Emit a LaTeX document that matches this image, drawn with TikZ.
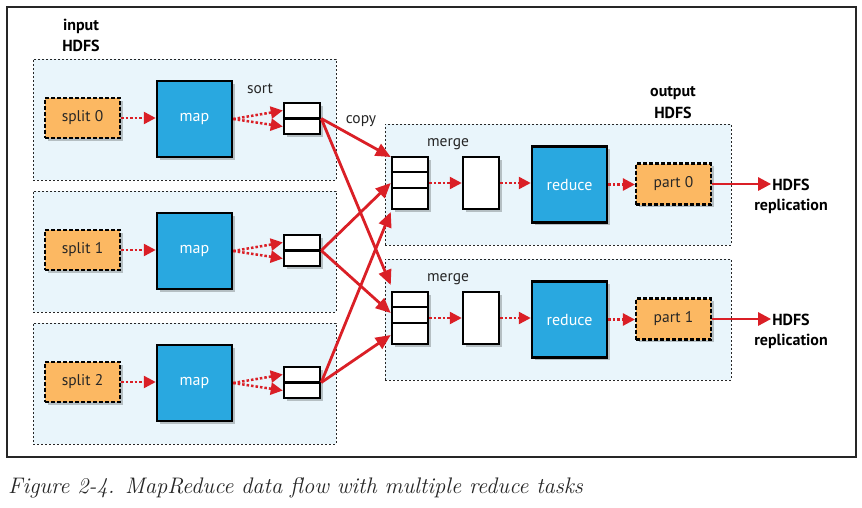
\documentclass[tikz,border=0pt]{standalone}
\usepackage{fontspec}
\setmainfont{PT Sans}
\newfontfamily\capfont{Latin Modern Roman}
\usetikzlibrary{shadows,arrows.meta,calc}
\definecolor{hblue}{HTML}{29A8E0}
\definecolor{horange}{HTML}{FCB862}
\definecolor{hbg}{HTML}{E9F5FB}
\definecolor{hred}{HTML}{DA1F26}
\tikzset{
  shad/.style={drop shadow={shadow xshift=2.5pt, shadow yshift=-2.5pt, opacity=0.22, fill=black}},
  container/.style={draw=black!85, line width=1pt, dash pattern=on 2pt off 2pt, fill=hbg, inner sep=0pt},
  splitbox/.style={draw=black, line width=2.2pt, dash pattern=on 4pt off 2pt, fill=horange, minimum width=75pt, minimum height=40pt, inner sep=0pt, shad, font=\fontsize{15.5}{17}\selectfont, text=black!85},
  procbox/.style={draw=black, line width=2.5pt, fill=hblue, text=white, minimum width=75pt, minimum height=76pt, inner sep=0pt, shad, font=\fontsize{16}{18}\selectfont},
  bufbox/.style={draw=black, line width=2.5pt, fill=white, minimum width=36pt, inner sep=0pt, shad},
  lab/.style={font=\fontsize{15.5}{17}\selectfont, text=black!85, inner sep=1pt},
  boldlab/.style={font=\fontsize{16}{18}\selectfont\bfseries, text=black, inner sep=1pt},
  dotarrow/.style={draw=hred, line width=2.5pt, dash pattern=on 2.5pt off 2pt, -{Triangle[length=12pt,width=12pt]}},
  copyarrow/.style={draw=hred, line width=2.8pt, -{Triangle[length=15pt,width=13pt]}},
  solidarrow/.style={draw=hred, line width=2.8pt, -{Triangle[length=13pt,width=13pt]}}
}
\begin{document}
\begin{tikzpicture}[x=1pt, y=-1pt]
\fill[white] (0,0) rectangle (862,507);
\useasboundingbox (0,0) rectangle (862,507);
\draw[line width=1.5pt, black!85] (7,7) rectangle (856,457);

% containers
\foreach \i/\r in {0/118,1/250,2/382}{
  \node[container, minimum width=303pt, minimum height=121pt] (in\i) at (184.5,\r+1.5) {};
}
\foreach \j/\B in {0/157,1/292}{
  \node[container, minimum width=346pt, minimum height=121pt] (out\j) at (558,\B+27.5) {};
}

% labels
\node[boldlab] (inl) at (81,26) {input};
\node[boldlab] (inh) at (81,46) {HDFS};
\node[boldlab] (outl) at (673,93) {output};
\node[boldlab] (outh) at (673,113) {HDFS};
\node[lab] (srt) at (260,89) {sort};
\node[lab] (cpy) at (361,121) {copy};

% map side
\foreach \i/\r in {0/118,1/250,2/382}{
  \node[splitbox] (sp\i) at (82.5,\r) {split \i};
  \node[procbox] (mp\i) at (194.5,\r+1) {map};
  \node[bufbox, minimum height=31pt] (bf\i) at (302,\r+0.5) {};
  \draw[line width=2.5pt] (bf\i.west) -- (bf\i.east);
  \draw[dotarrow] (sp\i.east) -- (sp\i.east -| mp\i.west);
  \draw[dotarrow] (mp\i.east) -- ($(bf\i.west)+(0,-8)$);
  \draw[dotarrow] (mp\i.east) -- ($(bf\i.west)+(0,8)$);
}

% reduce side
\foreach \j/\B in {0/157,1/292}{
  \node[lab] (ml\j) at (448,\B-13) {merge};
  \node[bufbox, minimum height=52pt] (mb\j) at (410,\B+26) {};
  \draw[line width=2.5pt] ($(mb\j.north west)+(0,16)$) -- ($(mb\j.north east)+(0,16)$);
  \draw[line width=2.5pt] ($(mb\j.north west)+(0,32)$) -- ($(mb\j.north east)+(0,32)$);
  \node[bufbox, minimum height=52pt] (mo\j) at (481,\B+26) {};
  \node[procbox] (rd\j) at (569.5,\B+27.5) {reduce};
  \node[splitbox, minimum height=41pt] (pt\j) at (673.5,\B+27) {part \j};
  \node[boldlab] (hd\j) at (791,\B+28) {HDFS};
  \node[boldlab] (rp\j) at (791,\B+49) {replication};
  \draw[dotarrow] (mb\j.east) -- (mo\j.west);
  \draw[dotarrow] (mo\j.east) -- (mo\j.east -| rd\j.west);
  \draw[dotarrow] (rd\j.east) -- (rd\j.east -| pt\j.west);
  \draw[solidarrow] (pt\j.east) -- (pt\j.east -| hd\j.west);
}

% copy (shuffle)
\draw[copyarrow] (bf0.east) -- ($(mb0.west)+(0,-26)$);
\draw[copyarrow] (bf0.east) -- ($(mb1.west)+(0,-33)$);
\draw[copyarrow] (bf1.east) -- ($(mb0.west)+(0,0)$);
\draw[copyarrow] (bf1.east) -- ($(mb1.west)+(0,-5)$);
\draw[copyarrow] (bf2.east) -- ($(mb0.west)+(0,29)$);
\draw[copyarrow] (bf2.east) -- ($(mb1.west)+(0,17)$);

% caption
\node[anchor=west, inner sep=0pt, font=\capfont\itshape\fontsize{22.5}{24}\selectfont, text=black!85] (cap) at (8,488) {Figure 2-4. MapReduce data flow with multiple reduce tasks};
\end{tikzpicture}
\end{document}
